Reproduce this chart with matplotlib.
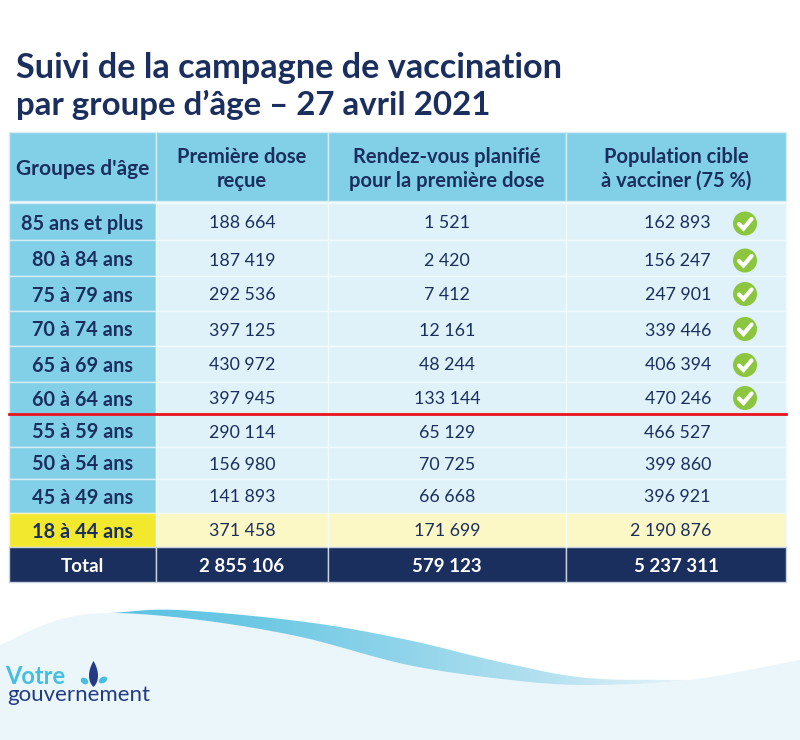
import numpy as np
import matplotlib
matplotlib.use("Agg")
import matplotlib.pyplot as plt
from matplotlib.patches import Circle, Ellipse, PathPatch, Rectangle
from matplotlib.path import Path
from matplotlib.colors import LinearSegmentedColormap

plt.rcParams['font.family'] = ['Lato', 'DejaVu Sans']

title_lines = ["Suivi de la campagne de vaccination", "par groupe d’âge – 27 avril 2021"]
headers = ["Groupes d'âge", "Première dose\nreçue", "Rendez-vous planifié\npour la première dose", "Population cible\nà vacciner (75 %)"]
age_groups = ["85 ans et plus", "80 à 84 ans", "75 à 79 ans", "70 à 74 ans", "65 à 69 ans", "60 à 64 ans",
              "55 à 59 ans", "50 à 54 ans", "45 à 49 ans", "18 à 44 ans"]
first_dose = [188664, 187419, 292536, 397125, 430972, 397945, 290114, 156980, 141893, 371458]
appointments = [1521, 2420, 7412, 12161, 48244, 133144, 65129, 70725, 66668, 171699]
target_pop = [162893, 156247, 247901, 339446, 406394, 470246, 466527, 399860, 396921, 2190876]
reached_target = [True, True, True, True, True, True, False, False, False, False]
total_label = "Total"
totals = [2855106, 579123, 5237311]

# layout in image pixels
col_edges = [9, 155.5, 328, 566, 786]
row_edges = [203, 240, 276, 311, 346, 381.5, 414, 447, 479, 513, 547, 582]
row_text_y = [223.5, 260.5, 295.5, 330.5, 365.5, 399.5, 432.5, 464.5, 497.5, 531.5, 566.5]
check_y = [223.5, 260.5, 294, 329, 365, 398]

NAVY = "#1b2f5e"
BLUE = "#82d0e8"
PALE = "#dff2f9"
YELLOW = "#f2e92f"
PALE_YELLOW = "#fbf8c6"
WAVE_BG = "#ebf6fb"


def fmtNumber(v):
    return f"{v:,}".replace(",", " ")


def smoothCurve(pts, n=30):
    # catmull-rom through the given points
    pts = np.array(pts, dtype=float)
    p = np.vstack([2 * pts[0] - pts[1], pts, 2 * pts[-1] - pts[-2]])
    out = []
    t = np.linspace(0, 1, n, endpoint=False)[:, None]
    for i in range(1, len(p) - 2):
        a, b, c, d = p[i - 1], p[i], p[i + 1], p[i + 2]
        out.append(0.5 * (2 * b + (c - a) * t + (2 * a - 5 * b + 4 * c - d) * t**2 + (3 * b - a - 3 * c + d) * t**3))
    out.append(pts[-1:])
    return np.vstack(out)


fig = plt.figure(figsize=(8, 7.4), dpi=100)
ax = fig.add_axes([0, 0, 1, 1])
ax.set_xlim(0, 800)
ax.set_ylim(740, 0)
ax.axis("off")

# wave background
lower = smoothCurve([(0, 645), (55, 621), (110, 613), (200, 620), (301, 637), (408, 665), (510, 680), (587, 685), (689, 680), (800, 660)])
bg = np.vstack([lower, [(800, 740), (0, 740)]])
ax.fill(bg[:, 0], bg[:, 1], color=WAVE_BG, lw=0, zorder=1)

# ribbon with gradient
upper = smoothCurve([(110, 613), (178, 610), (306, 622), (408, 640), (500, 662), (587, 678), (689, 680)])
lower_rib = lower[(lower[:, 0] >= 110) & (lower[:, 0] <= 689)]
ribbon = np.vstack([upper, lower_rib[::-1]])
cmap = LinearSegmentedColormap.from_list("rib", ["#5bc2e2", "#6cc8e4", "#8fd4ea", "#b5e1f0", "#ebf6fb"])
im = ax.imshow(np.linspace(0, 1, 256)[None, :], extent=(100, 700, 690, 605), cmap=cmap, aspect="auto", zorder=2)
im.set_clip_path(PathPatch(Path(ribbon), transform=ax.transData))
ax.set_xlim(0, 800)
ax.set_ylim(740, 0)

# title
ax.text(16, 67.5, title_lines[0], fontsize=24.7, fontweight="bold", color=NAVY, va="center", ha="left", zorder=5)
ax.text(16, 104.5, title_lines[1], fontsize=23.8, fontweight="bold", color=NAVY, va="center", ha="left", zorder=5)

# header
for c in range(4):
    x0, x1 = col_edges[c], col_edges[c + 1]
    ax.add_patch(Rectangle((x0, 132), x1 - x0, 69, fc=BLUE, ec="#d5eef6", lw=1, zorder=3))
    ax.text((x0 + x1) / 2, 169, headers[c], fontsize=15 if c == 0 else 14.5, fontweight="bold", color=NAVY, ha="center", va="center", linespacing=1.22, zorder=5)

# body
for r, group in enumerate(age_groups):
    y0, y1 = row_edges[r], row_edges[r + 1]
    is_young = group.startswith("18")
    ax.add_patch(Rectangle((col_edges[0], y0), col_edges[1] - col_edges[0], y1 - y0, fc=YELLOW if is_young else BLUE, ec="#d5eef6" if not is_young else "#f8f6c0", lw=1, zorder=3))
    ax.add_patch(Rectangle((col_edges[1], y0), col_edges[4] - col_edges[1], y1 - y0, fc=PALE_YELLOW if is_young else PALE, ec="#f0f9fc", lw=1, zorder=3))
    for c in (2, 3):
        ax.plot([col_edges[c]] * 2, [y0, y1], color="#f4fbfd", lw=1, zorder=4)
    ax.text((col_edges[0] + col_edges[1]) / 2, row_text_y[r], group, fontsize=14.3, fontweight="bold", color=NAVY, ha="center", va="center", zorder=5)
    ax.text(242, row_text_y[r], fmtNumber(first_dose[r]), fontsize=12.8, color=NAVY, ha="center", va="center", zorder=5)
    ax.text(447, row_text_y[r], fmtNumber(appointments[r]), fontsize=12.8, color=NAVY, ha="center", va="center", zorder=5)
    ax.text(711, row_text_y[r], fmtNumber(target_pop[r]), fontsize=12.8, color=NAVY, ha="right", va="center", zorder=5)

# total row
y0, y1 = row_edges[-2], row_edges[-1]
for c in range(4):
    x0, x1 = col_edges[c], col_edges[c + 1]
    ax.add_patch(Rectangle((x0, y0), x1 - x0, y1 - y0, fc=NAVY, ec="#c9d3dc", lw=1, zorder=3))
    label = total_label if c == 0 else fmtNumber(totals[c - 1])
    ax.text((x0 + x1) / 2, row_text_y[-1], label, fontsize=13.5, fontweight="bold", color="white", ha="center", va="center", zorder=5)

# check marks
for cy, done in zip(check_y, reached_target):
    if done:
        ax.add_patch(Circle((745, cy), 12, fc="#8cc63f", ec="none", zorder=5))
        ax.plot([739, 743.5, 751.5], [cy + 0.5, cy + 5, cy - 4.5], color="white", lw=3, solid_capstyle="round", solid_joinstyle="miter", zorder=6)

# red separator
ax.plot([9, 786], [414, 414], color="#e8131e", lw=2, zorder=6)

# logo
ax.text(5, 676, "Votre", fontsize=17, fontweight="bold", color="#45bfdf", ha="left", va="center", zorder=5)
ax.text(7, 695, "gouvernement", fontsize=16, color="#233b82", ha="left", va="center", zorder=5)
flame = Path([(93.5, 661), (87, 672), (88, 682), (93.5, 687), (99, 682), (100, 672), (93.5, 661)],
             [Path.MOVETO, Path.CURVE4, Path.CURVE4, Path.CURVE4, Path.CURVE4, Path.CURVE4, Path.CURVE4])
ax.add_patch(PathPatch(flame, fc="#233b82", ec="none", zorder=5))
ax.add_patch(Ellipse((84.5, 681), 8, 6, angle=35, fc="#45bfdf", ec="none", zorder=5))
ax.add_patch(Ellipse((103, 680), 9, 6, angle=-30, fc="#45bfdf", ec="none", zorder=5))

fig.savefig("out.png", dpi=100)
plt.close()
